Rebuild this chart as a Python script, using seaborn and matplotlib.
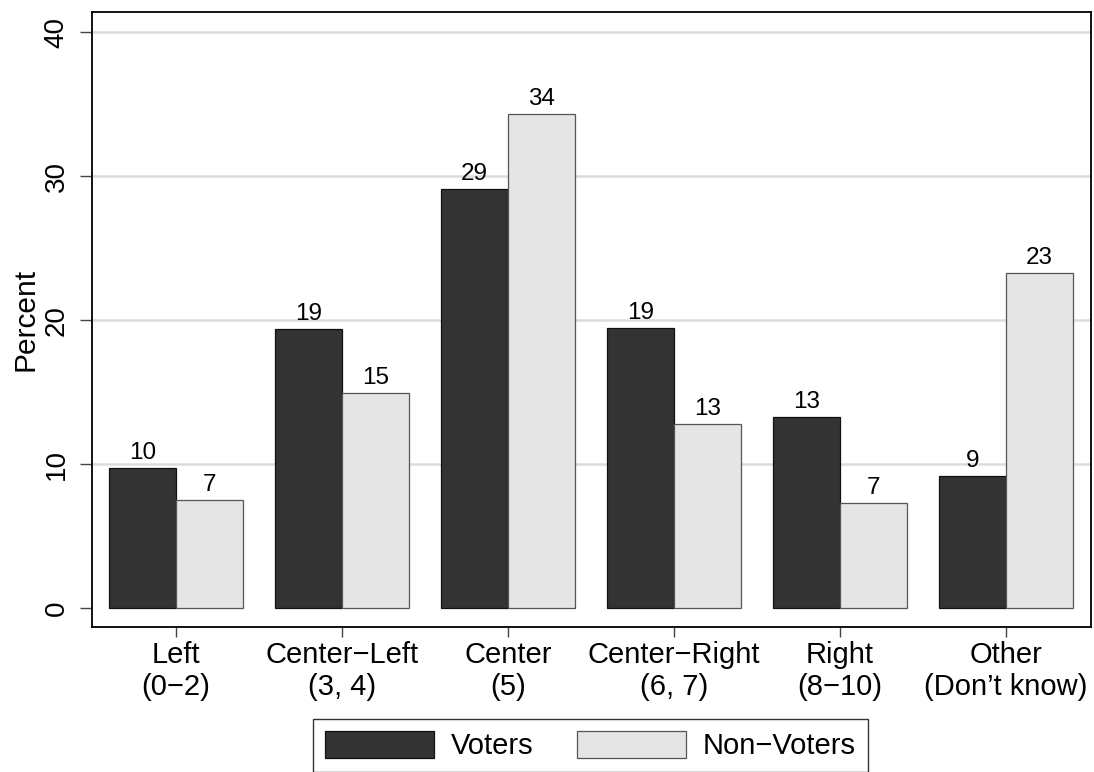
import pandas as pd
import seaborn as sns
import matplotlib.pyplot as plt
from matplotlib.patches import Patch

# values
categories = ["Left\n(0\u22122)", "Center\u2212Left\n(3, 4)", "Center\n(5)",
              "Center\u2212Right\n(6, 7)", "Right\n(8\u221210)", "Other\n(Don\u2019t know)"]
voters = [9.7, 19.4, 29.1, 19.45, 13.24, 9.19]
non_voters = [7.48, 14.93, 34.33, 12.8, 7.27, 23.29]
groups = ["Voters", "Non\u2212Voters"]
yticks = [0, 10, 20, 30, 40]

dark = "#333333"
light = "#e5e5e5"

df = pd.DataFrame({
    "cat": categories * 2,
    "pct": voters + non_voters,
    "group": [groups[0]] * len(categories) + [groups[1]] * len(categories),
})

sns.set_style("white")
plt.rcParams["font.family"] = ["Liberation Sans", "DejaVu Sans"]
plt.rcParams["text.color"] = "black"
plt.rcParams["xtick.color"] = "black"
plt.rcParams["ytick.color"] = "black"
plt.rcParams["axes.labelcolor"] = "black"

fig = plt.figure(figsize=(10.94, 7.72), dpi=100)
ax = fig.add_axes([0.0841, 0.1878, 0.9132, 0.7967])

sns.barplot(data=df, x="cat", y="pct", hue="group", order=categories,
            hue_order=groups, palette=[dark, light], width=0.807, gap=0,
            legend=False, ax=ax, saturation=1)

edge_cols = ["#111111", "#555555"]
for cont, ec in zip(ax.containers, edge_cols):
    for p in cont:
        p.set_edgecolor(ec)
        p.set_linewidth(0.9)
    ax.bar_label(cont, labels=[f"{v:.0f}" for v in cont.datavalues],
                 padding=3, fontsize=17.5, color="black")

ax.set_xlim(-0.506, 5.512)
ax.set_ylim(-1.32, 41.4)
ax.set_yticks(yticks)
ax.set_yticklabels([str(t) for t in yticks])
ax.yaxis.grid(True, color="#dcdcdc", linewidth=1.8)
ax.yaxis.get_gridlines()[0].set_visible(False)
ax.set_axisbelow(True)

ax.tick_params(axis="y", direction="out", length=9, width=1, color="#444444",
               labelsize=20, labelrotation=90, pad=7, left=True)
ax.tick_params(axis="x", direction="out", length=7, width=1, color="#444444",
               labelsize=21, pad=3, bottom=True)
for lab in ax.get_yticklabels():
    lab.set_va("center")

for sp in ax.spines.values():
    sp.set_visible(True)
    sp.set_color("black")
    sp.set_linewidth(1.3)

ax.set_xlabel("")
ax.set_ylabel("Percent", fontsize=21.5, labelpad=3)

handles = [Patch(facecolor=dark, edgecolor="#111111", linewidth=0.9),
           Patch(facecolor=light, edgecolor="#555555", linewidth=0.9)]
leg = fig.legend(handles, groups, loc="upper center",
                 bbox_to_anchor=(590.5 / 1094, 1 - 719 / 772), ncol=2,
                 fontsize=21, frameon=True, fancybox=False, handlelength=3.73,
                 handleheight=1.03, handletextpad=0.58, columnspacing=1.5,
                 borderpad=0.41, borderaxespad=0)
leg.get_frame().set_edgecolor("black")
leg.get_frame().set_linewidth(1.0)

fig.savefig("out.png", dpi=100)
